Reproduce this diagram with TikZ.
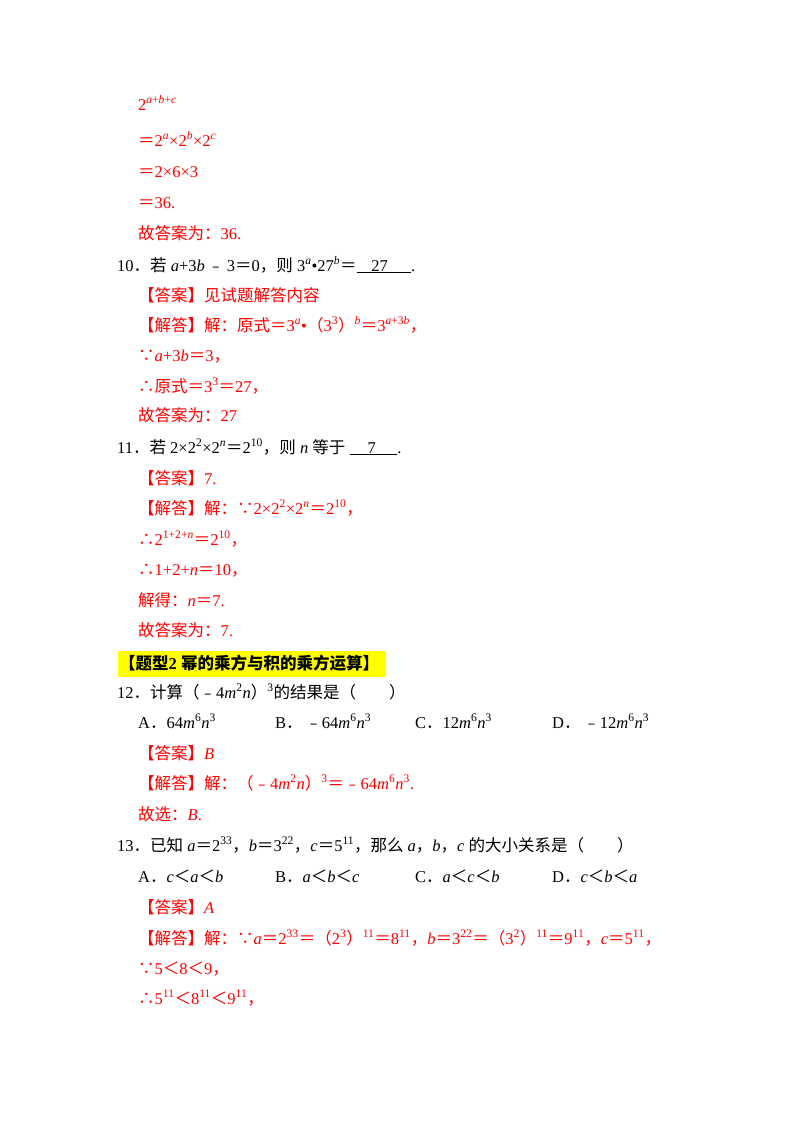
\documentclass[tikz,border=0pt]{standalone}
\usepackage{fontspec}
\setmainfont{Liberation Serif}
\newfontfamily\cjk{Noto Sans CJK SC}
\newcommand\zh[1]{{\cjk #1}}
\newcommand\I[1]{\textit{#1}}
\newcommand\SU[1]{\textsuperscript{#1}}
\definecolor{ansred}{RGB}{255,0,0}
\definecolor{hl}{RGB}{255,255,0}
\tikzset{ln/.style={anchor=base west,inner sep=0pt,font=\fontsize{16.5}{18}\selectfont},
 rl/.style={ln,text=ansred}}
\begin{document}
\begin{tikzpicture}[x=1pt,y=-1pt]
\useasboundingbox[fill=white] (0,0) rectangle (800,1132);
\node[rl] (l1) at (138,110) {2\SU{\I{a}+\I{b}+\I{c}}};
\node[rl] (l2) at (138,146) {\zh{＝}2\SU{\I{a}}×2\SU{\I{b}}×2\SU{\I{c}}};
\node[rl] (l3) at (138,177) {\zh{＝}2×6×3};
\node[rl] (l4) at (138,208) {\zh{＝}36.};
\node[rl] (l5) at (138,239) {\zh{故答案为：}36.};
\node[ln] (q10) at (117,271) {10\zh{．若} \I{a}+3\I{b}\,\zh{﹣}\,3\zh{＝}0\zh{，则} 3\SU{\I{a}}•27\SU{\I{b}}\zh{＝}\underline{\hspace{0.9em}27\hspace{1.4em}}.};
\node[rl] (a10) at (138,301) {\zh{【答案】见试题解答内容}};
\node[rl] (s10) at (138,331) {\zh{【解答】解：原式＝}3\SU{\I{a}}•\zh{（}3\SU{3}\zh{）}\SU{\I{b}}\zh{＝}3\SU{\I{a}+3\I{b}}\zh{，}};
\node[rl] (s10b) at (138,361) {\zh{∵}\I{a}+3\I{b}\zh{＝}3\zh{，}};
\node[rl] (s10c) at (138,392) {\zh{∴原式＝}3\SU{3}\zh{＝}27\zh{，}};
\node[rl] (s10d) at (138,421) {\zh{故答案为：}27};
\node[ln] (q11) at (117,453) {11\zh{．若} 2×2\SU{2}×2\SU{\I{n}}\zh{＝}2\SU{10}\zh{，则} \I{n} \zh{等于} \underline{\hspace{1.1em}7\hspace{1.3em}}.};
\node[rl] (a11) at (138,484) {\zh{【答案】}7.};
\node[rl] (s11) at (138,514) {\zh{【解答】解：∵}2×2\SU{2}×2\SU{\I{n}}\zh{＝}2\SU{10}\zh{，}};
\node[rl] (s11b) at (138,545) {\zh{∴}2\SU{1+2+\I{n}}\zh{＝}2\SU{10}\zh{，}};
\node[rl] (s11c) at (138,575) {\zh{∴}1+2+\I{n}\zh{＝}10\zh{，}};
\node[rl] (s11d) at (138,606) {\zh{解得：}\I{n}\zh{＝}7.};
\node[rl] (s11e) at (138,636) {\zh{故答案为：}7.};
\fill[hl] (118,651) rectangle (386,677);
\node[ln] (h2) at (119,669) {\zh{\bfseries 【题型}\textbf{2} \zh{\bfseries 幂的乘方与积的乘方运算】}};
\node[ln] (q12) at (117,698) {12\zh{．计算（﹣}4\I{m}\SU{2}\I{n}\zh{）}\SU{3}\zh{的结果是（\hspace{2em}）}};
\node[ln] (o12a) at (138,728) {A\zh{．}64\I{m}\SU{6}\I{n}\SU{3}};
\node[ln] (o12b) at (275,728) {B\zh{．\,﹣}64\I{m}\SU{6}\I{n}\SU{3}};
\node[ln] (o12c) at (415,728) {C\zh{．}12\I{m}\SU{6}\I{n}\SU{3}};
\node[ln] (o12d) at (552,728) {D\zh{．\,﹣}12\I{m}\SU{6}\I{n}\SU{3}};
\node[rl] (a12) at (138,759) {\zh{【答案】}\I{B}};
\node[rl] (s12) at (138,789) {\zh{【解答】解：（﹣}4\I{m}\SU{2}\I{n}\zh{）}\SU{3}\zh{＝﹣}64\I{m}\SU{6}\I{n}\SU{3}.};
\node[rl] (s12b) at (138,820) {\zh{故选：}\I{B}.};
\node[ln] (q13) at (117,851) {13\zh{．已知} \I{a}\zh{＝}2\SU{33}\zh{，}\I{b}\zh{＝}3\SU{22}\zh{，}\I{c}\zh{＝}5\SU{11}\zh{，那么} \I{a}\zh{，}\I{b}\zh{，}\I{c} \zh{的大小关系是（\hspace{2em}）}};
\node[ln] (o13a) at (138,882) {A\zh{．}\I{c}\zh{＜}\I{a}\zh{＜}\I{b}};
\node[ln] (o13b) at (275,882) {B\zh{．}\I{a}\zh{＜}\I{b}\zh{＜}\I{c}};
\node[ln] (o13c) at (415,882) {C\zh{．}\I{a}\zh{＜}\I{c}\zh{＜}\I{b}};
\node[ln] (o13d) at (552,882) {D\zh{．}\I{c}\zh{＜}\I{b}\zh{＜}\I{a}};
\node[rl] (a13) at (138,913) {\zh{【答案】}\I{A}};
\node[rl] (s13) at (138,944) {\zh{【解答】解：∵}\I{a}\zh{＝}2\SU{33}\zh{＝（}2\SU{3}\zh{）}\SU{11}\zh{＝}8\SU{11}\zh{，}\I{b}\zh{＝}3\SU{22}\zh{＝（}3\SU{2}\zh{）}\SU{11}\zh{＝}9\SU{11}\zh{，}\I{c}\zh{＝}5\SU{11}\zh{，}};
\node[rl] (s13b) at (138,974) {\zh{∵}5\zh{＜}8\zh{＜}9\zh{，}};
\node[rl] (s13c) at (138,1004) {\zh{∴}5\SU{11}\zh{＜}8\SU{11}\zh{＜}9\SU{11}\zh{，}};
\end{tikzpicture}
\end{document}
